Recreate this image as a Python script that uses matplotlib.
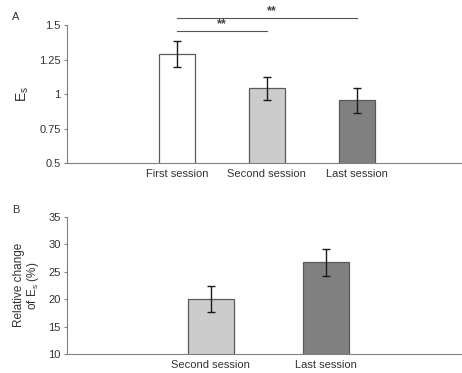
import matplotlib
matplotlib.use("Agg")
import matplotlib.pyplot as plt

plt.rcParams['font.family'] = ['Liberation Sans', 'DejaVu Sans']
plt.rcParams['mathtext.fontset'] = 'custom'
plt.rcParams['mathtext.rm'] = 'Liberation Sans'
plt.rcParams['mathtext.it'] = 'Liberation Sans'

# Panel A data
cats_a = ["First session", "Second session", "Last session"]
vals_a = [1.29, 1.04, 0.955]
errs_a = [0.095, 0.082, 0.092]
colors_a = ["#ffffff", "#cccccc", "#808080"]
yticks_a = [0.5, 0.75, 1.0, 1.25, 1.5]
yticklabels_a = ["0.5", "0.75", "1", "1.25", "1.5"]

# Panel B data
cats_b = ["Second session", "Last session"]
vals_b = [20.0, 26.7]
errs_b = [2.4, 2.5]
colors_b = ["#cccccc", "#808080"]
yticks_b = [10, 15, 20, 25, 30, 35]

W, H = 462, 373
fig = plt.figure(figsize=(W / 100, H / 100), dpi=100)

spine_col = "#808080"
edge_col = "#5a5a5a"
text_col = "#333333"
fs = 8

def style(ax):
    for s in ["top", "right"]:
        ax.spines[s].set_visible(False)
    for s in ["left", "bottom"]:
        ax.spines[s].set_color(spine_col)
        ax.spines[s].set_linewidth(0.8)
    ax.tick_params(axis="y", direction="out", length=2.5, width=0.8, color=spine_col,
                   labelsize=fs, labelcolor=text_col, pad=2)
    ax.tick_params(axis="x", length=0, labelsize=fs, labelcolor=text_col, pad=4)

# Panel A
axA = fig.add_axes([67 / W, 1 - 163 / H, (W - 67) / W, (163 - 25) / H])
pos_a = [1, 2, 3]
axA.bar(pos_a, vals_a, width=0.4, color=colors_a, edgecolor=edge_col, linewidth=0.9, zorder=2)
axA.errorbar(pos_a, vals_a, yerr=errs_a, fmt="none", ecolor="#1a1a1a", elinewidth=1.0,
             capsize=3, capthick=1.0, zorder=3)
axA.set_xlim(-0.222, 4.17)
axA.set_ylim(0.5, 1.5)
axA.set_yticks(yticks_a)
axA.set_yticklabels(yticklabels_a)
axA.set_xticks(pos_a)
axA.set_xticklabels(cats_a)
style(axA)
axA.set_ylabel("E$_\\mathrm{s}$", fontsize=10, color=text_col, labelpad=6)
# significance
sig_col = "#555555"
axA.plot([1, 2], [1.457, 1.457], color=sig_col, lw=0.8, clip_on=False)
axA.plot([1, 3], [1.548, 1.548], color=sig_col, lw=0.8, clip_on=False)
axA.text(1.5, 1.462, "**", ha="center", va="bottom", fontsize=9, fontweight="bold",
         color="#444444", clip_on=False)
axA.text(2.05, 1.555, "**", ha="center", va="bottom", fontsize=9, fontweight="bold",
         color="#444444", clip_on=False)
fig.text(12 / W, 1 - 17 / H, "A", fontsize=fs, color=text_col, va="center")

# Panel B
axB = fig.add_axes([67 / W, 1 - 354 / H, (W - 67) / W, (354 - 216.7) / H])
pos_b = [1, 2]
axB.bar(pos_b, vals_b, width=0.4, color=colors_b, edgecolor=edge_col, linewidth=0.9, zorder=2)
axB.errorbar(pos_b, vals_b, yerr=errs_b, fmt="none", ecolor="#1a1a1a", elinewidth=1.0,
             capsize=3, capthick=1.0, zorder=3)
axB.set_xlim(-0.246, 3.18)
axB.set_ylim(10, 35)
axB.set_yticks(yticks_b)
axB.set_xticks(pos_b)
axB.set_xticklabels(cats_b)
style(axB)
axB.set_ylabel("Relative change\nof E$_\\mathrm{s}$ (%)", fontsize=8.5, color=text_col,
               labelpad=5, linespacing=1.05)
fig.text(12 / W, 1 - 210 / H, "B", fontsize=fs, color=text_col, va="center")

fig.savefig("out.png", dpi=100)
